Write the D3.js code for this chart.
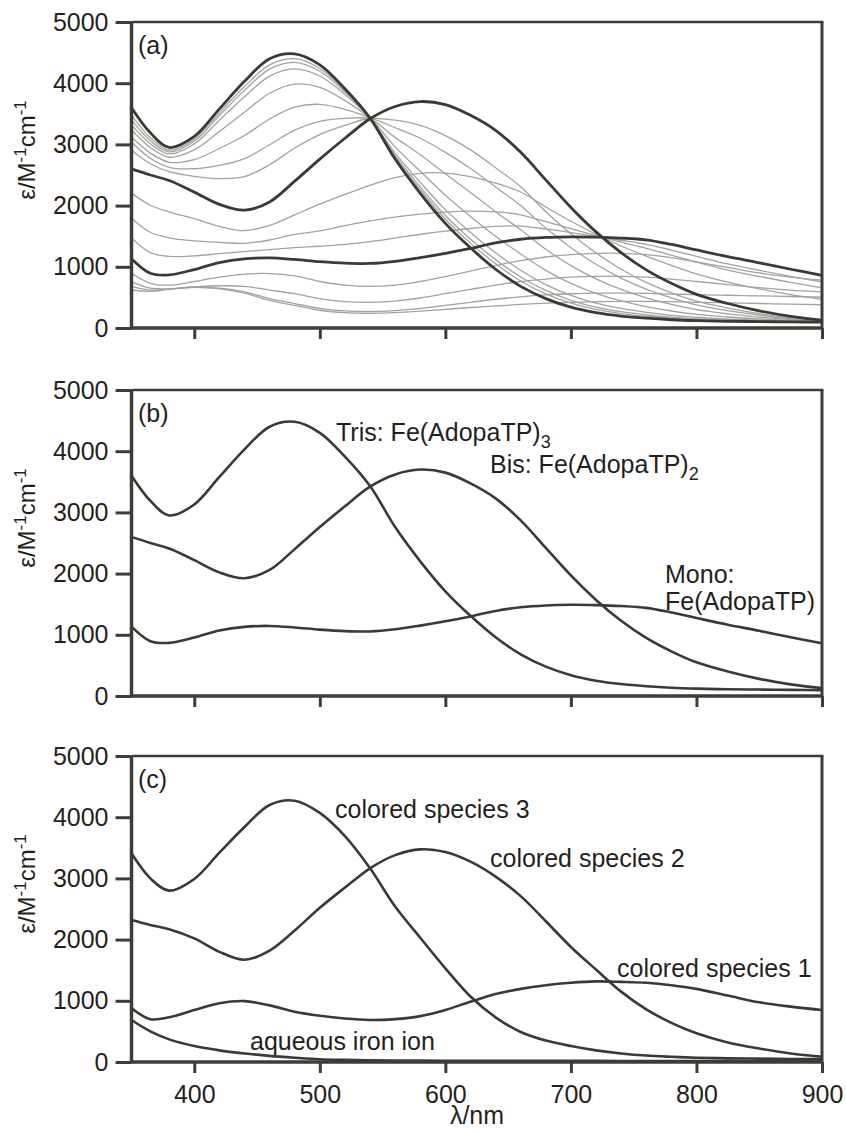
<!DOCTYPE html>
<html><head><meta charset="utf-8">
<script src="https://cdn.jsdelivr.net/npm/d3@7"></script>
<style>
body{margin:0;background:#fff}
svg text{font-family:"Liberation Sans",Arial,Helvetica,sans-serif;fill:#231f20}
</style>
</head><body>
<svg id="chart" width="846" height="1133"></svg>
<script>
// ---------- data (ε in M^-1 cm^-1) ----------
const wavelengths = [350,365,380,400,420,440,460,480,500,520,540,560,580,600,620,640,660,680,700,720,740,760,780,800,825,850,875,900];

// pure species (panels a and b)
const tris = [3600,3190,2950,3130,3580,4030,4400,4480,4300,3910,3430,2760,2200,1710,1310,960,680,480,340,250,195,160,135,120,110,105,100,95];
const bis  = [2600,2500,2410,2220,2020,1925,2060,2400,2760,3100,3420,3620,3700,3650,3475,3230,2870,2420,1970,1570,1230,950,730,550,400,280,190,130];
const mono = [1133,895,868,955,1070,1130,1145,1120,1085,1060,1055,1090,1150,1220,1300,1390,1450,1480,1490,1485,1470,1440,1365,1275,1165,1065,960,861];

// intermediate titration spectra (panel a, grey)
const grey1 = [3480,3110,2906,3086,3518,3946,4300,4400,4240,3880,3430,2790,2260,1778,1387,1050,768,557,405,303,236,192,159,137,122,112,104,96];
const grey2 = [3400,3061,2878,3051,3472,3883,4230,4340,4195,3856,3429,2815,2305,1837,1452,1117,834,614,453,342,267,215,177,150,130,117,106,97];
const grey3 = [3320,3012,2845,3007,3395,3777,4115,4235,4118,3815,3429,2858,2380,1934,1561,1229,944,710,534,408,319,255,206,172,145,126,111,99];
const grey4 = [3235,2949,2790,2910,3210,3525,3835,3985,3932,3716,3428,2960,2560,2168,1822,1498,1208,941,729,567,443,350,278,223,180,147,122,103];
const grey5 = [3120,2858,2708,2752,2933,3146,3415,3608,3655,3572,3426,3115,2830,2519,2214,1901,1604,1286,1020,804,630,492,385,301,232,179,138,110];
const grey6 = [3040,2774,2625,2602,2656,2767,2995,3232,3378,3425,3424,3272,3100,2870,2605,2304,2000,1632,1312,1042,816,634,492,378,284,210,154,116];
const grey7 = [2910,2683,2554,2479,2440,2472,2668,2941,3161,3311,3423,3395,3310,3143,2910,2618,2308,1901,1539,1227,961,745,575,438,325,235,167,121];
const grey8 = [2204,2006,1898,1786,1662,1591,1676,1850,2023,2182,2332,2456,2527,2532,2475,2367,2222,1977,1744,1531,1340,1175,1024,886,750,639,544,466];
const grey9 = [1793,1564,1473,1424,1400,1384,1438,1530,1587,1672,1750,1810,1860,1895,1909,1897,1850,1738,1622,1509,1403,1303,1191,1076,947,842,744,656];
const grey10 = [1470,1232,1169,1179,1215,1249,1282,1312,1336,1366,1410,1469,1532,1584,1626,1661,1664,1618,1560,1498,1434,1367,1274,1171,1046,943,845,751];
const grey11 = [894,730,700,760,830,880,890,850,760,700,680,700,760,840,930,1020,1100,1160,1200,1220,1220,1200,1150,1080,990,900,830,780];
const grey12 = [757,650,640,670,690,680,620,560,480,430,420,440,490,560,630,700,760,800,830,845,845,830,800,760,710,660,620,590];
const grey13 = [675,620,640,670,650,590,480,400,320,280,270,285,320,370,420,470,510,540,560,570,570,565,555,545,535,525,515,505];
const grey14 = [621,600,630,665,640,570,450,370,290,250,240,250,275,305,335,360,385,405,420,430,435,435,430,420,410,400,390,380];

// resolved species (panel c)
const species3 = [3410,3000,2800,2990,3420,3840,4200,4270,4070,3690,3165,2540,2030,1530,1070,730,490,350,260,190,140,105,85,70,60,55,50,50];
const species2 = [2320,2240,2170,2020,1800,1670,1820,2150,2520,2850,3165,3380,3475,3430,3273,3030,2710,2300,1880,1510,1150,860,640,470,320,220,140,87];
const species1 = [877,700,730,850,960,995,925,820,755,710,686,700,750,850,985,1110,1195,1255,1295,1317,1310,1295,1255,1195,1085,975,905,850];
const aqueous  = [686,500,370,260,190,140,100,70,45,35,28,25,22,20,20,20,20,18,18,18,17,17,16,16,15,15,15,15];

const xTicks = [400,500,600,700,800,900];
const yTicks = [0,1000,2000,3000,4000,5000];
const panelLabels = ["(a)","(b)","(c)"];

// ---------- drawing ----------
const svg = d3.select("#chart");
const dark = "#3a3a35", grey = "#a2a29e", axisCol = "#3d3d38";
const x = d3.scaleLinear().domain([350, 900]).range([131.5, 822]);
const panelH = 306;
const tops = [22, 390, 756];

const greys = [grey1,grey2,grey3,grey4,grey5,grey6,grey7,grey8,grey9,grey10,grey11,grey12,grey13,grey14];
const panelSeries = [
  {grey: greys, dark: [tris, bis, mono]},
  {grey: [], dark: [tris, bis, mono]},
  {grey: [], dark: [species3, species2, species1, aqueous]}
];

tops.forEach((top, i) => {
  const bottom = top + panelH;
  const y = d3.scaleLinear().domain([0, 5000]).range([bottom, top]);
  const line = d3.line()
    .x((d, j) => x(wavelengths[j]))
    .y(d => y(d))
    .curve(d3.curveCatmullRom.alpha(0.5));
  const g = svg.append("g");

  g.selectAll("path.grey").data(panelSeries[i].grey).join("path")
    .attr("class","grey").attr("d", line)
    .attr("fill","none").attr("stroke", grey).attr("stroke-width", 1.3);
  g.selectAll("path.dark").data(panelSeries[i].dark).join("path")
    .attr("class","dark").attr("d", line)
    .attr("fill","none").attr("stroke", dark).attr("stroke-width", i === 0 ? 2.8 : 2.6);

  // y axis
  const ya = g.append("g").attr("transform", `translate(${x(350)},0)`)
    .call(d3.axisLeft(y).tickValues(yTicks).tickSize(16).tickPadding(7).tickFormat(d3.format("d")));
  ya.select(".domain").remove();
  ya.selectAll(".tick line").attr("stroke", axisCol).attr("stroke-width", 3);
  ya.selectAll(".tick text").attr("font-size", 25).style("fill", "#231f20");

  // x axis
  const xa = g.append("g").attr("transform", `translate(0,${bottom})`)
    .call(d3.axisBottom(x).tickValues(xTicks).tickSize(11).tickPadding(12)
      .tickFormat(i === 2 ? d3.format("d") : ""));
  xa.select(".domain").remove();
  xa.selectAll(".tick line").attr("stroke", axisCol).attr("stroke-width", 3);
  xa.selectAll(".tick text").attr("font-size", 25).style("fill", "#231f20");

  // frame
  g.append("line").attr("x1", x(350)).attr("x2", x(350)).attr("y1", top).attr("y2", bottom + 1.5)
    .attr("stroke", axisCol).attr("stroke-width", 3.5);
  g.append("line").attr("x1", x(350)).attr("x2", x(900)).attr("y1", bottom).attr("y2", bottom)
    .attr("stroke", axisCol).attr("stroke-width", 3.5);
  g.append("line").attr("x1", x(350)).attr("x2", x(900) + 1.5).attr("y1", top).attr("y2", top)
    .attr("stroke", axisCol).attr("stroke-width", 2.6);
  g.append("line").attr("x1", x(900)).attr("x2", x(900)).attr("y1", top).attr("y2", bottom)
    .attr("stroke", axisCol).attr("stroke-width", 3);

  // panel label
  g.append("text").attr("x", 138).attr("y", top + 32).attr("font-size", 25).text(panelLabels[i]);

  // y axis title
  const yt = g.append("text")
    .attr("transform", `translate(35,${top + 128}) rotate(-90)`)
    .attr("text-anchor", "middle").attr("font-size", 24);
  yt.append("tspan").text("ε/M");
  yt.append("tspan").attr("font-size", 17).attr("dy", -9).text("-1");
  yt.append("tspan").attr("dy", 9).text("cm");
  yt.append("tspan").attr("font-size", 17).attr("dy", -9).text("-1");
});

// x axis title
svg.append("text").attr("x", 477).attr("y", 1124).attr("text-anchor", "middle")
  .attr("font-size", 25).text("λ/nm");

function subLabel(xp, yp, main, sub) {
  const t = svg.append("text").attr("x", xp).attr("y", yp).attr("font-size", 25);
  t.append("tspan").text(main);
  if (sub) t.append("tspan").attr("font-size", 18).attr("dy", 7).text(sub);
}
// annotations panel (b)
subLabel(336, 441, "Tris: Fe(AdopaTP)", "3");
subLabel(490, 473, "Bis: Fe(AdopaTP)", "2");
subLabel(665, 583, "Mono:");
subLabel(665, 610, "Fe(AdopaTP)");
// annotations panel (c)
subLabel(335, 818, "colored species 3");
subLabel(490, 867, "colored species 2");
subLabel(617, 977, "colored species 1");
subLabel(250, 1050, "aqueous iron ion");
</script>
</body></html>
